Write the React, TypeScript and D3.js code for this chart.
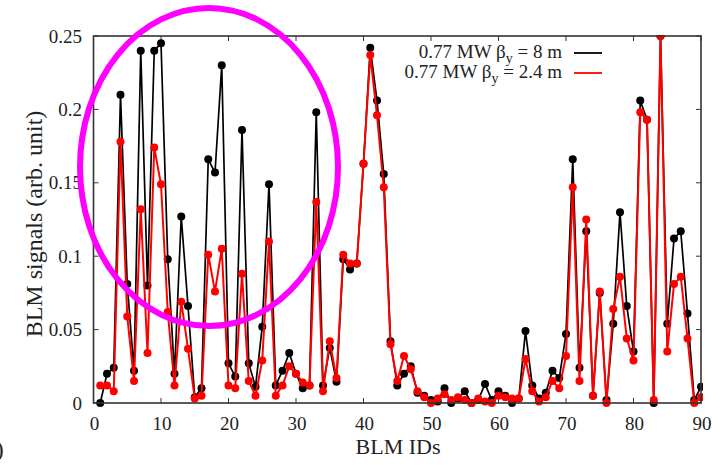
import React from 'react';
import { scaleLinear, line } from 'd3';

// BLM IDs 1..90
const ids = Array.from({ length: 90 }, (_, i) => i + 1);

// 0.77 MW, beta_y = 8 m
const beta8 = [
  0.0, 0.020, 0.024, 0.210, 0.081, 0.022, 0.240, 0.080, 0.240, 0.245,
  0.098, 0.020, 0.127, 0.066, 0.004, 0.010, 0.166, 0.157, 0.230, 0.027,
  0.018, 0.186, 0.027, 0.011, 0.052, 0.149, 0.012, 0.022, 0.034, 0.020,
  0.010, 0.012, 0.198, 0.012, 0.0375, 0.0145, 0.098, 0.091, 0.095, 0.163,
  0.242, 0.206, 0.156, 0.042, 0.012, 0.020, 0.025, 0.007, 0.005, 0.002,
  0.001, 0.010, 0.000, 0.003, 0.008, 0.000, 0.002, 0.013, 0.002, 0.008,
  0.005, 0.000, 0.003, 0.049, 0.012, 0.003, 0.007, 0.022, 0.017, 0.047,
  0.166, 0.024, 0.117, 0.005, 0.075, 0.002, 0.054, 0.130, 0.066, 0.035,
  0.206, 0.193, 0.000, 0.250, 0.054, 0.112, 0.117, 0.061, 0.002, 0.011,
];

// 0.77 MW, beta_y = 2.4 m
const beta24 = [
  0.012, 0.012, 0.008, 0.178, 0.059, 0.015, 0.132, 0.034, 0.174, 0.149,
  0.062, 0.012, 0.069, 0.037, 0.003, 0.005, 0.101, 0.076, 0.105, 0.012,
  0.010, 0.088, 0.015, 0.005, 0.029, 0.110, 0.005, 0.012, 0.025, 0.020,
  0.014, 0.012, 0.137, 0.008, 0.042, 0.017, 0.101, 0.095, 0.095, 0.163,
  0.237, 0.196, 0.147, 0.040, 0.015, 0.032, 0.023, 0.008, 0.004, 0.000,
  0.003, 0.006, 0.002, 0.004, 0.002, 0.000, 0.003, 0.001, 0.000, 0.005,
  0.004, 0.003, 0.003, 0.030, 0.008, 0.001, 0.004, 0.015, 0.010, 0.032,
  0.147, 0.015, 0.125, 0.005, 0.076, 0.000, 0.064, 0.086, 0.044, 0.029,
  0.198, 0.193, 0.002, 0.250, 0.035, 0.081, 0.086, 0.044, 0.000, 0.004,
];

const xTicks = [0, 10, 20, 30, 40, 50, 60, 70, 80, 90];
const yTicks = [0, 0.05, 0.1, 0.15, 0.2, 0.25];
const yTickLabels = ['0', '0.05', '0.1', '0.15', '0.2', '0.25'];

const W = 727, H = 465;
const left = 93.5, right = 701, top = 36, bottom = 403;
const font = '"Liberation Serif", "Times New Roman", serif';

export default function App() {
  const x = scaleLinear().domain([0, 90]).range([left, right]);
  const y = scaleLinear().domain([0, 0.25]).range([bottom, top]);

  const path = (vals: number[]) =>
    line<number>()
      .x((_, i) => x(ids[i]))
      .y(d => y(d))(vals) || '';

  const series = [
    { vals: beta8, color: '#000', lw: 1.7 },
    { vals: beta24, color: '#ff0000', lw: 2 },
  ];

  return (
    <svg width={W} height={H} style={{ position: 'absolute', left: 0, top: 0, background: '#fff' }}
      fontFamily={font}>
      <defs>
        <clipPath id="plot">
          <rect x={left} y={top - 1} width={right - left + 2} height={bottom - top + 6} />
        </clipPath>
      </defs>

      {/* ticks inward on all sides */}
      {xTicks.map(t => (
        <g key={'x' + t}>
          <line x1={x(t)} x2={x(t)} y1={bottom} y2={bottom - 5} stroke="#333" />
          <line x1={x(t)} x2={x(t)} y1={top} y2={top + 5} stroke="#333" />
          <text x={x(t) + 1} y={423} dy="0.35em" textAnchor="middle" fontSize={19} fill="#222">{t}</text>
        </g>
      ))}
      {yTicks.map((t, i) => (
        <g key={'y' + t}>
          <line x1={left} x2={left + 5} y1={y(t)} y2={y(t)} stroke="#333" />
          <line x1={right} x2={right - 5} y1={y(t)} y2={y(t)} stroke="#333" />
          <text x={82} y={y(t)} dy="0.35em" textAnchor="end" fontSize={19} fill="#222">{yTickLabels[i]}</text>
        </g>
      ))}

      <g clipPath="url(#plot)">
        {series.map((s, k) => (
          <g key={k}>
            <path d={path(s.vals)} fill="none" stroke={s.color} strokeWidth={s.lw} />
            {s.vals.map((v, i) => (
              <circle key={i} cx={x(ids[i])} cy={y(v)} r={4} fill={s.color} />
            ))}
          </g>
        ))}
      </g>

      <rect x={left} y={top} width={right - left} height={bottom - top} fill="none" stroke="#333" strokeWidth={1.6} />

      {/* legend */}
      <text x={562} y={58} textAnchor="end" fontSize={19} fill="#222">
        0.77 MW β<tspan fontSize={14} dy={5}>y</tspan><tspan dy={-5}> = 8 m</tspan>
      </text>
      <line x1={574} x2={602} y1={53} y2={53} stroke="#000" strokeWidth={1.8} />
      <text x={562} y={78} textAnchor="end" fontSize={19} fill="#222">
        0.77 MW β<tspan fontSize={14} dy={5}>y</tspan><tspan dy={-5}> = 2.4 m</tspan>
      </text>
      <line x1={574} x2={602} y1={73} y2={73} stroke="#ff0000" strokeWidth={1.8} />

      {/* axis titles */}
      <text x={398} y={454} textAnchor="middle" fontSize={22} fill="#222">BLM IDs</text>
      <text transform="translate(42,224) rotate(-90)" textAnchor="middle" fontSize={24} fill="#222">
        BLM signals (arb. unit)
      </text>
      <text x={-4} y={457} fontSize={23} fill="#222">)</text>

      {/* highlight ellipse */}
      <ellipse cx={209} cy={167} rx={129} ry={159} fill="none" stroke="#ff00ff" strokeWidth={6} />
    </svg>
  );
}
